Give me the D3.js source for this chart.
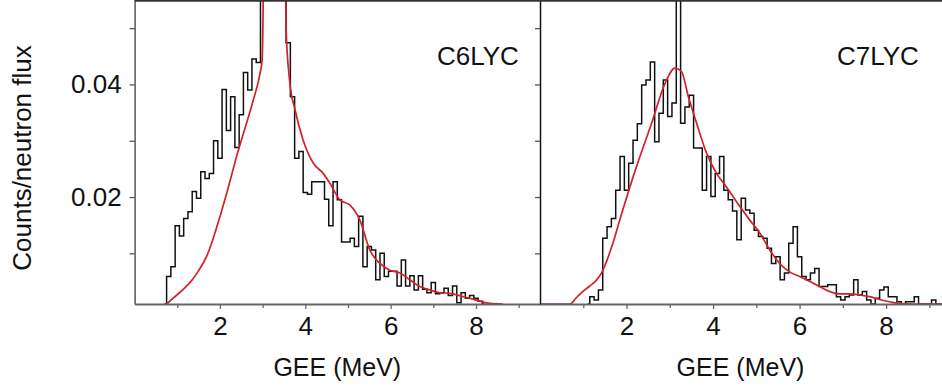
<!DOCTYPE html>
<html>
<head>
<meta charset="utf-8">
<script src="https://cdn.jsdelivr.net/npm/d3@7"></script>
<style>
  html, body { margin: 0; padding: 0; background: #fff; }
  svg { display: block; }
  text { font-family: "Liberation Sans", Arial, sans-serif; fill: #111; }
</style>
</head>
<body>
<svg id="chart" width="942" height="392"></svg>
<script>
// ---------------- DATA ----------------
const panelNames = ["C6LYC", "C7LYC"];
const xTickValues = [1, 2, 3, 4, 5, 6, 7, 8, 9];
const xTickLabels = [2, 4, 6, 8];
const yTickValues = [0.01, 0.02, 0.03, 0.04, 0.05];
const yTickLabels = [0.02, 0.04];
const binWidth = 0.1;

// C6LYC histogram (bin centres start at 0.7 MeV, 0.1 MeV bins)
const c6HistStart = 0.7;
const c6Hist = [
  0.001, 0.0059, 0.0076, 0.0149, 0.0131, 0.0162, 0.0174, 0.0210, 0.0198, 0.0245,
  0.0233, 0.0242, 0.0300, 0.0269, 0.0391, 0.0318, 0.0378, 0.0288, 0.0346, 0.0421,
  0.0390, 0.0445, 0.0439, 0.090, 0.160, 0.250, 0.220, 0.140, 0.080, 0.0474,
  0.0378, 0.0269, 0.0281, 0.0208, 0.0205, 0.0227, 0.0227, 0.0227, 0.0196, 0.0149,
  0.0227, 0.0195, 0.0120, 0.0120, 0.0127, 0.0112, 0.0166, 0.0076, 0.0112, 0.0106,
  0.0053, 0.0100, 0.0059, 0.0068, 0.0068, 0.0042, 0.0088, 0.0042, 0.0060, 0.0035,
  0.0060, 0.0036, 0.0030, 0.0048, 0.0028, 0.0030, 0.0038, 0.0025, 0.0042, 0.0012,
  0.0030, 0.0020, 0.0025, 0.0020, 0.0015, 0.0010
];
// C6LYC simulated curve
const c6CurveE = [0.75, 0.91, 1.14, 1.34, 1.49, 1.69, 1.84, 2.0, 2.16, 2.39, 2.55, 2.78, 2.94,
  2.99, 3.05, 3.2, 3.35, 3.5, 3.55, 3.64, 3.76, 3.95, 4.19, 4.42, 4.58, 4.81, 5.04, 5.28,
  5.51, 5.75, 5.98, 6.22, 6.45, 6.68, 6.92, 7.15, 7.39, 7.70, 8.01, 8.32, 8.63];
const c6CurveV = [0.001, 0.0021, 0.0036, 0.0052, 0.0068, 0.0095, 0.0126, 0.0165, 0.0207, 0.0272,
  0.0313, 0.0372, 0.0420, 0.0445, 0.08, 0.2, 0.2, 0.08, 0.0497, 0.0402, 0.0355, 0.0301,
  0.0260, 0.0242, 0.0224, 0.0195, 0.0186, 0.0159, 0.0106, 0.0082, 0.0070, 0.0065, 0.0053,
  0.0041, 0.0035, 0.0030, 0.0029, 0.0023, 0.0017, 0.0011, 0.001];

// C7LYC histogram (bin centres start at 1.1 MeV)
const c7HistStart = 1.1;
const c7Hist = [
  0.001, 0.0023, 0.0017, 0.0035, 0.0127, 0.0147, 0.0162, 0.0212, 0.0272, 0.0212,
  0.0260, 0.0301, 0.0330, 0.0399, 0.0408, 0.0440, 0.0298, 0.0349, 0.0408, 0.0343,
  0.0367, 0.120, 0.0331, 0.0360, 0.0381, 0.0287, 0.0287, 0.0212, 0.0272, 0.0201,
  0.0242, 0.0272, 0.0212, 0.0195, 0.0175, 0.0124, 0.0198, 0.0177, 0.0171, 0.0141,
  0.0130, 0.0127, 0.0109, 0.0082, 0.0094, 0.0053, 0.0065, 0.0118, 0.0147, 0.0094,
  0.0059, 0.0053, 0.0065, 0.0073, 0.0041, 0.0041, 0.0044, 0.0044, 0.0023, 0.0017,
  0.0023, 0.0026, 0.0053, 0.0026, 0.0032, 0.0017, 0.0010, 0.0020, 0.0035, 0.0040,
  0.0023, 0.0023, 0.0014, 0.0010, 0.0014, 0.0014, 0.0023, 0.0010, 0.0010, 0.0010,
  0.0017, 0.0010, 0.0010
];
// C7LYC simulated curve
const c7CurveE = [0, 0.69, 0.85, 1.0, 1.15, 1.3, 1.42, 1.55, 1.66, 1.89, 2.23, 2.58, 2.89, 3.12,
  3.27, 3.43, 3.62, 3.85, 4.08, 4.31, 4.62, 4.85, 5.08, 5.31, 5.54, 5.77, 6.0, 6.24, 6.46,
  6.70, 6.93, 7.16, 7.39, 7.62, 7.85, 8.08, 8.31, 8.62, 9.5];
const c7CurveV = [0.001, 0.001, 0.0022, 0.0033, 0.0042, 0.0052, 0.0065, 0.0088, 0.0112, 0.0171,
  0.0254, 0.0331, 0.0402, 0.0429, 0.0423, 0.0378, 0.0331, 0.0278, 0.0242, 0.0218, 0.0183,
  0.0159, 0.0136, 0.0106, 0.0082, 0.0067, 0.0059, 0.0050, 0.0041, 0.0032, 0.0028, 0.0028,
  0.0026, 0.0023, 0.0018, 0.0014, 0.0011, 0.001, 0.001];

const yLabel = "Counts/neutron flux";
const xLabel = "GEE (MeV)";

// ---------------- LAYOUT ----------------
const svg = d3.select("#chart");
const plotTop = 0, plotBottom = 304;
const panels = [
  { name: panelNames[0], x0: 134.6, x1: 540, histStart: c6HistStart, hist: c6Hist, cE: c6CurveE, cV: c6CurveV, labelX: 437 },
  { name: panelNames[1], x0: 540, x1: 951, histStart: c7HistStart, hist: c7Hist, cE: c7CurveE, cV: c7CurveV, labelX: 837 }
];
const y = d3.scaleLinear().domain([0.001, 0.055]).range([plotBottom, plotTop]);
const histColor = "#111";
const curveColor = "#d3212b";
const fontSize = 26;

panels.forEach((p, i) => {
  const x = d3.scaleLinear().domain([0, 9.5]).range([p.x0, p.x1]);
  const clipId = "clip" + i;
  svg.append("clipPath").attr("id", clipId)
    .append("rect").attr("x", p.x0).attr("y", plotTop).attr("width", p.x1 - p.x0).attr("height", plotBottom - plotTop + 1);

  const g = svg.append("g").attr("clip-path", `url(#${clipId})`);

  // histogram as centred steps
  const histPts = p.hist.map((v, k) => [p.histStart + k * binWidth, v]);
  const stepLine = d3.line().x(d => x(d[0])).y(d => y(d[1])).curve(d3.curveStep);
  g.append("path").attr("d", stepLine(histPts))
    .attr("fill", "none").attr("stroke", histColor).attr("stroke-width", 1.5).attr("stroke-linejoin", "miter");

  // simulation curve
  const curvePts = p.cE.map((e, k) => [e, p.cV[k]]);
  const smooth = d3.line().x(d => x(d[0])).y(d => y(d[1])).curve(d3.curveMonotoneX);
  g.append("path").attr("d", smooth(curvePts))
    .attr("fill", "none").attr("stroke", curveColor).attr("stroke-width", 1.7);

  // x axis
  const xAxis = d3.axisBottom(x).tickValues(xTickValues).tickSize(5).tickSizeOuter(0).tickPadding(7.5)
    .tickFormat(d => xTickLabels.includes(d) ? d : "");
  const gx = svg.append("g").attr("transform", `translate(0,${plotBottom})`).call(xAxis);
  gx.select(".domain").attr("stroke", "#666").attr("stroke-width", 2);
  gx.selectAll(".tick line").attr("stroke", "#666").attr("stroke-width", 1.3)
    .attr("y2", d => xTickLabels.includes(d) ? 5 : 4);
  gx.selectAll(".tick text").style("font-size", fontSize + "px").attr("fill", "#111");

  // y axis
  const yAxis = d3.axisLeft(y).tickValues(yTickValues).tickSize(5).tickSizeOuter(0).tickPadding(8)
    .tickFormat(d => (i === 0 && yTickLabels.includes(d)) ? d3.format(".2f")(d) : "");
  const gy = svg.append("g").attr("transform", `translate(${p.x0},0)`).call(yAxis);
  gy.select(".domain").attr("stroke", i === 0 ? "#555" : "#111").attr("stroke-width", 1.5);
  gy.selectAll(".tick line").attr("stroke", "#555").attr("stroke-width", 1.3);
  gy.selectAll(".tick text").style("font-size", fontSize + "px").attr("fill", "#111");

  // axis title
  svg.append("text").attr("x", (p.x0 + p.x1) / 2 - (i === 1 ? 5 : 0)).attr("y", 376)
    .attr("text-anchor", "middle").style("font-size", "25px").text(xLabel);

  // panel label
  svg.append("text").attr("x", p.labelX).attr("y", 65)
    .style("font-size", fontSize + "px").text(p.name);
});

// top frame
svg.append("line").attr("x1", 134.6).attr("x2", 942).attr("y1", 0.8).attr("y2", 0.8)
  .attr("stroke", "#333").attr("stroke-width", 1.8);

// y label
svg.append("text").attr("transform", "translate(31,158) rotate(-90)")
  .attr("text-anchor", "middle").style("font-size", fontSize + "px").text(yLabel);
</script>
</body>
</html>
